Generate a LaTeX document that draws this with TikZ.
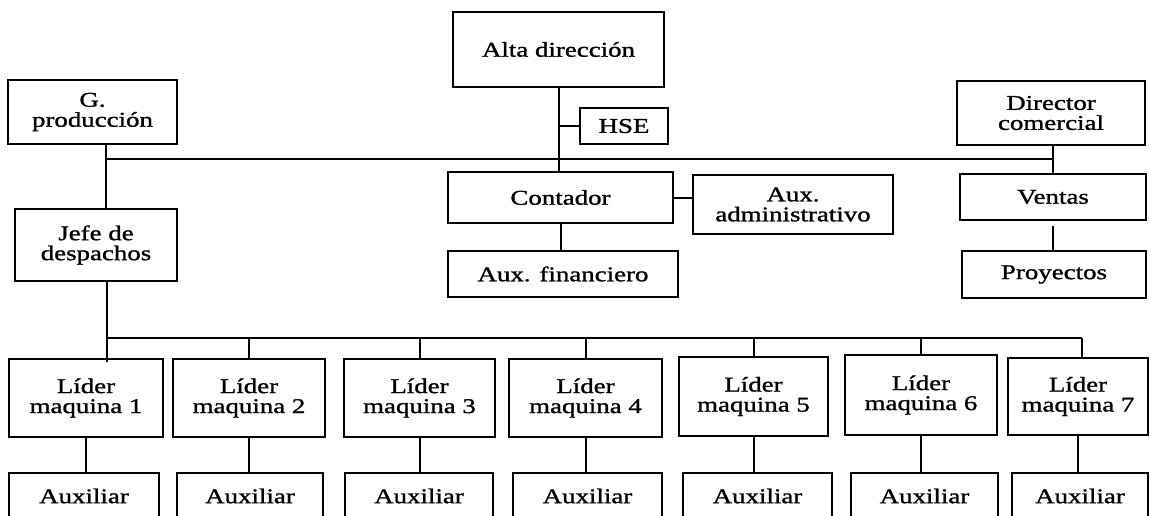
\documentclass[tikz,border=0pt]{standalone}
\usepackage{fontspec}
\setmainfont{Liberation Serif}[FakeStretch=1.28,FakeBold=1.2]
\begin{document}
\begin{tikzpicture}[x=1pt,y=-1pt,
  box/.style={draw, line width=1.8pt, rectangle, align=center, inner sep=0pt,
    font=\fontsize{21}{20}\selectfont},
  heavybox/.style={box, line width=2.5pt},
  conn/.style={line width=2pt},
  bus/.style={line width=2.4pt}]
\useasboundingbox (0,0) rectangle (1150,515);
\clip (0,0) rectangle (1150,515);
% top level
\node[heavybox, minimum width=211pt, minimum height=75pt] (alta) at (558.5,49.5) {Alta dirección};
\node[box, minimum width=88pt, minimum height=36pt] (hse) at (624,126) {HSE};
\node[box, minimum width=169pt, minimum height=64pt] (gprod) at (92.5,112) {G.\\producción};
\node[box, minimum width=162pt, minimum height=72pt] (jefe) at (96,245) {Jefe de\\despachos};
\node[box, minimum width=225pt, minimum height=51pt] (contador) at (560.5,197.5) {Contador};
\node[box, minimum width=200pt, minimum height=59pt] (auxadm) at (793,204.5) {Aux.\\administrativo};
\node[box, minimum width=230pt, minimum height=46pt] (auxfin) at (563,274) {Aux. financiero};
\node[heavybox, minimum width=188pt, minimum height=64pt] (director) at (1051,113) {Director\\comercial};
\node[box, minimum width=186pt, minimum height=46pt] (ventas) at (1053,197) {Ventas};
\node[heavybox, minimum width=184pt, minimum height=47pt] (proyectos) at (1054,274.5) {Proyectos};
% leaders
\node[box, minimum width=154pt, minimum height=78pt] (l1) at (86,398) {Líder\\maquina 1};
\node[box, minimum width=152pt, minimum height=78pt] (l2) at (249,398) {Líder\\maquina 2};
\node[box, minimum width=151pt, minimum height=78pt] (l3) at (419.5,398) {Líder\\maquina 3};
\node[box, minimum width=153pt, minimum height=78pt] (l4) at (585.5,398) {Líder\\maquina 4};
\node[box, minimum width=149pt, minimum height=79pt] (l5) at (753.5,396.5) {Líder\\maquina 5};
\node[box, minimum width=152pt, minimum height=80pt] (l6) at (921,395) {Líder\\maquina 6};
\node[box, minimum width=140pt, minimum height=77pt] (l7) at (1078,396.5) {Líder\\maquina 7};
% auxiliaries
\node[heavybox, minimum width=150pt, minimum height=46pt] (a1) at (84,496) {Auxiliar};
\node[heavybox, minimum width=146pt, minimum height=46pt] (a2) at (250,496) {Auxiliar};
\node[heavybox, minimum width=148pt, minimum height=46pt] (a3) at (419,496) {Auxiliar};
\node[heavybox, minimum width=149pt, minimum height=46pt] (a4) at (587.5,496) {Auxiliar};
\node[heavybox, minimum width=149pt, minimum height=46pt] (a5) at (757.5,496) {Auxiliar};
\node[heavybox, minimum width=147pt, minimum height=46pt] (a6) at (924.5,496) {Auxiliar};
\node[heavybox, minimum width=136pt, minimum height=46pt] (a7) at (1080,496) {Auxiliar};
% upper connectors
\coordinate (busL) at ([xshift=13.5pt]gprod.south |- 0,159);
\coordinate (busR) at ([xshift=2pt]director.south |- 0,159);
\draw[bus] (busL) -- (busR);
\draw[conn] ([xshift=13.5pt]gprod.south) -- ([xshift=13.5pt]gprod.south |- jefe.north);
\draw[conn] (alta.south) -- (alta.south |- contador.north);
\draw[conn] (hse.west) -- (hse.west -| alta.south);
\draw[conn] (contador.east) -- (contador.east -| auxadm.west);
\draw[conn] (contador.south) -- (contador.south |- auxfin.north);
\draw[conn] ([xshift=2pt]director.south) -- ([xshift=2pt]director.south |- ventas.north);
\draw[conn] ([yshift=-5pt]ventas.south) -- (ventas.south |- proyectos.north);
% lower connectors
\coordinate (bbL) at ([xshift=11pt]jefe.south |- 0,338);
\coordinate (bbR) at ([xshift=4pt]l7.north |- 0,338);
\draw[bus] (bbL) -- (bbR);
\draw[bus] ([xshift=11pt]jefe.south) -- ([xshift=11pt,yshift=-4pt]jefe.south |- l1.north);
\foreach \i in {2,...,6}{
  \draw[conn] (l\i.north |- bbL) -- (l\i.north);
}
\draw[conn] (bbR) -- (bbR |- l7.north);
\foreach \i in {1,...,7}{
  \draw[conn] (l\i.south) -- (l\i.south |- a\i.north);
}
\end{tikzpicture}
\end{document}
